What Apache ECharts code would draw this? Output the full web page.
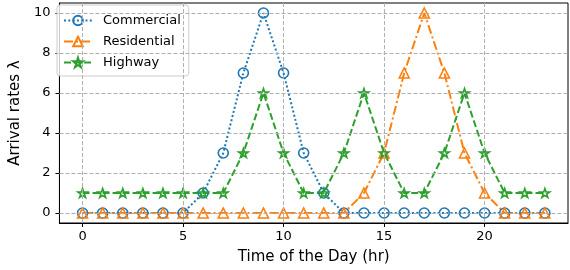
<!DOCTYPE html>
<html><head><meta charset="utf-8">
<script src="https://cdn.jsdelivr.net/npm/echarts@6/dist/echarts.min.js"></script>
<style>html,body{margin:0;padding:0;background:#fff}#c{width:570px;height:270px}</style>
</head><body><div id="c"></div>
<script>
const hours = [0,1,2,3,4,5,6,7,8,9,10,11,12,13,14,15,16,17,18,19,20,21,22,23];
const commercial = [0,0,0,0,0,0,1,3,7,10,7,3,1,0,0,0,0,0,0,0,0,0,0,0];
const residential = [0,0,0,0,0,0,0,0,0,0,0,0,0,0,1,3,7,10,7,3,1,0,0,0];
const highway = [1,1,1,1,1,1,1,1,3,6,3,1,1,3,6,3,1,1,3,6,3,1,1,1];
const xTicks = [0,5,10,15,20];
const yTicks = [0,2,4,6,8,10];

const star = 'path://M0,-10 L2.245,-3.09 L9.51,-3.09 L3.633,1.18 L5.878,8.09 L0,3.82 L-5.878,8.09 L-3.633,1.18 L-9.51,-3.09 L-2.245,-3.09 Z';
const pair = a => hours.map((h,i)=>[h,a[i]]);
const font = 'DejaVu Sans';
const gridStyle = {color:'#b0b0b0', width:1, type:[4,2]};

function mk(name, data, color, symbol, size, dash){
  return {
    name, type:'line', data: pair(data), symbol, symbolSize:size, symbolKeepAspect:true,
    showAllSymbol:true,
    lineStyle:{color, width:2, type:dash},
    itemStyle:{color:'rgba(255,255,255,0)', borderColor:color, borderWidth:1.6},
    emphasis:{disabled:true}, animation:false
  };
}

const chart = echarts.init(document.getElementById('c'), null, {renderer:'canvas'});
chart.setOption({
  animation:false,
  grid:{left:51, right:2, top:3, bottom:45, show:true, borderColor:'#000', borderWidth:1, backgroundColor:'transparent'},
  legend:{
    left:57, top:5, orient:'vertical', padding:[9,8,7,6], itemGap:8, itemWidth:28, itemHeight:12,
    backgroundColor:'rgba(255,255,255,0.8)', borderColor:'#cccccc', borderWidth:1, borderRadius:3,
    textStyle:{fontFamily:font, fontSize:13, color:'#000', padding:[0,0,0,6]},
    data:['Commercial','Residential','Highway']
  },
  xAxis:{
    type:'value', min:-1.15, max:24.15,
    name:'Time of the Day (hr)', nameLocation:'middle', nameGap:27,
    nameTextStyle:{fontFamily:font, fontSize:15, color:'#000'},
    axisLine:{show:true, onZero:false, lineStyle:{color:'#000', width:1}},
    axisTick:{show:true, length:4, inside:false, customValues:xTicks, lineStyle:{color:'#000'}},
    axisLabel:{customValues:xTicks, margin:7, fontFamily:font, fontSize:13, color:'#000'},
    splitLine:{show:false}
  },
  yAxis:{
    type:'value', min:-0.5, max:10.5,
    name:'Arrival rates λ', nameLocation:'middle', nameGap:33, nameRotate:90,
    nameTextStyle:{fontFamily:font, fontSize:15, color:'#000'},
    axisLine:{show:true, onZero:false, lineStyle:{color:'#000', width:1}},
    axisTick:{show:true, length:4, inside:false, customValues:yTicks, lineStyle:{color:'#000'}},
    axisLabel:{customValues:yTicks, margin:9, fontFamily:font, fontSize:13, color:'#000'},
    splitLine:{show:false}
  },
  series:[
    mk('Commercial', commercial, '#1f77b4', 'circle', 10, [2,2.3]),
    mk('Residential', residential, '#ff7f0e', 'triangle', 10, [9,3,2,3]),
    mk('Highway', highway, '#2ca02c', star, 9.5, [7,3]),
    {type:'line', data:[], silent:true, markLine:{silent:true, symbol:'none', animation:false, label:{show:false},
      lineStyle:gridStyle, emphasis:{disabled:true},
      data: xTicks.map(v=>({xAxis:v})).concat(yTicks.map(v=>({yAxis:v})))}, z:0}
  ]
});
</script></body></html>
